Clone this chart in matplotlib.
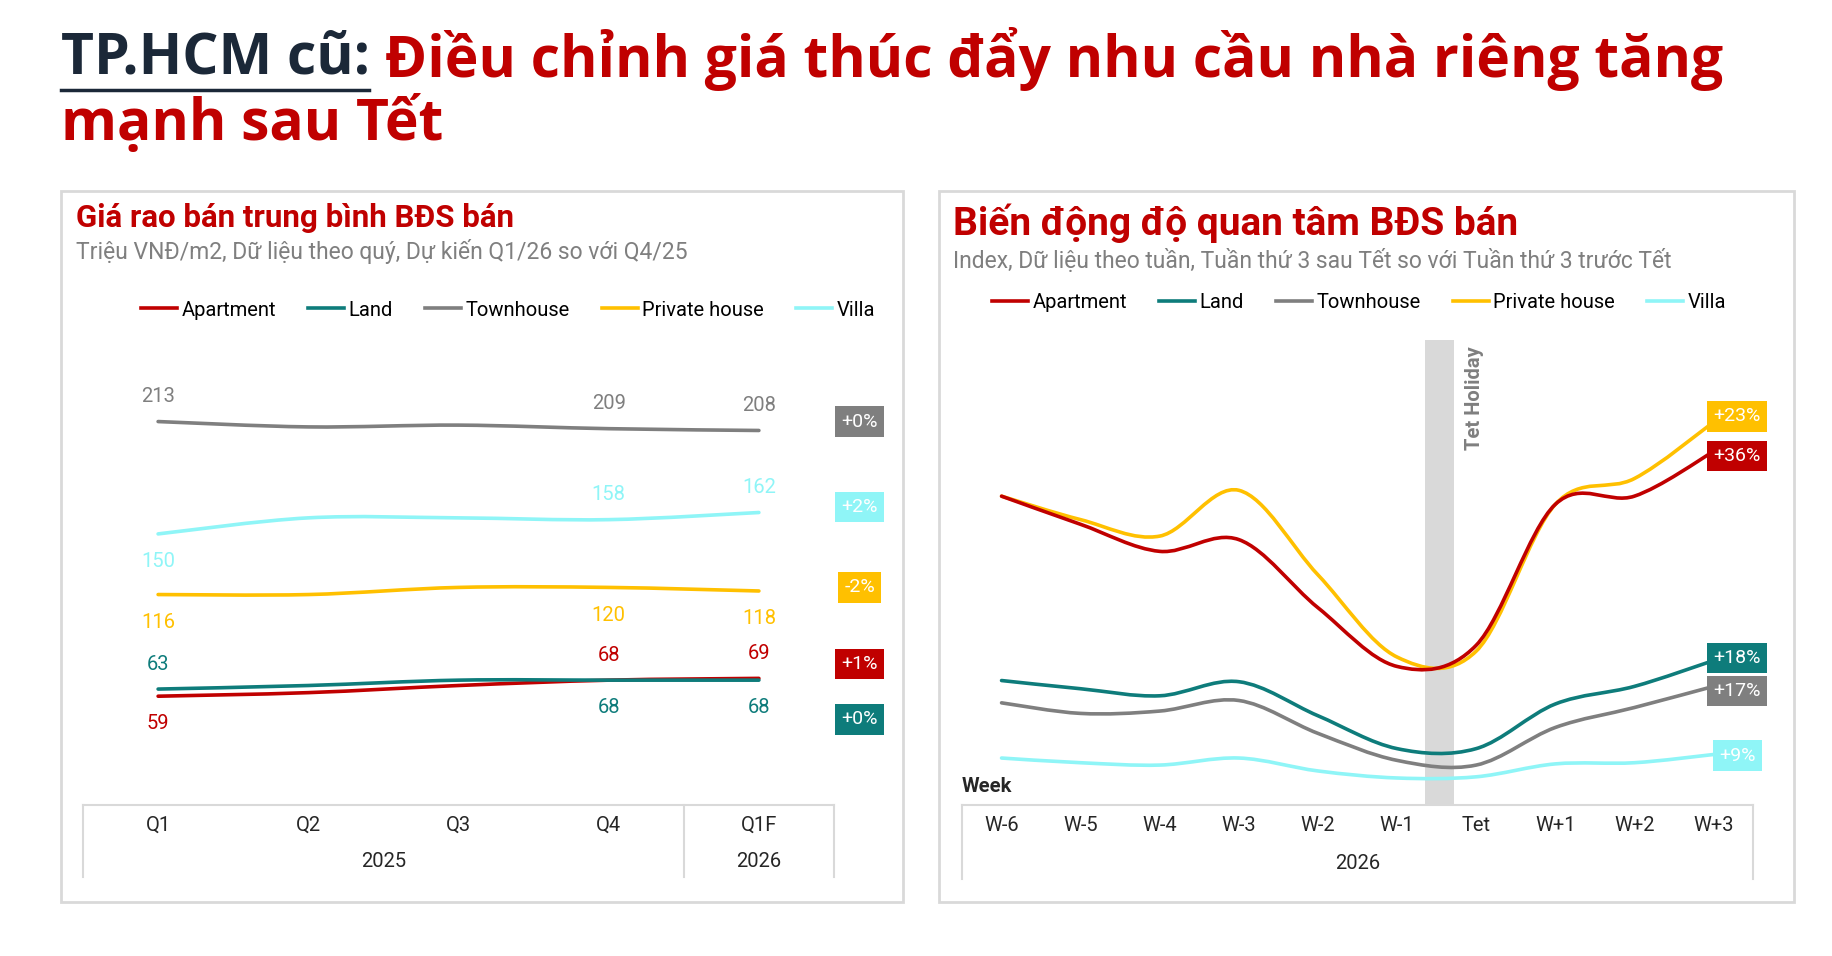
import matplotlib
matplotlib.use("Agg")
import matplotlib.pyplot as plt
from matplotlib.path import Path
from matplotlib.patches import PathPatch, Rectangle
from matplotlib.lines import Line2D

plt.rcParams["font.family"] = ["Roboto", "DejaVu Sans"]

SERIES = ["Apartment", "Land", "Townhouse", "Private house", "Villa"]
COLORS = {
    "Apartment": "#c00000",
    "Land": "#0e7c7b",
    "Townhouse": "#7f7f7f",
    "Private house": "#ffc000",
    "Villa": "#8ff5f7",
}

# left chart: average asking price, million VND/m2
quarters = ["Q1", "Q2", "Q3", "Q4", "Q1F"]
price_apartment = [59, 61, 65, 68, 69]
price_land = [63, 65, 68, 68, 68]
price_townhouse = [213, 210, 211, 209, 208]
price_private = [116, 116, 120, 120, 118]
price_villa = [150, 159, 159, 158, 162]
price_change = ["+1%", "+0%", "+0%", "-2%", "+2%"]
price_change_y = [77, 46, 213, 120, 165]

# right chart: interest index by week
weeks = ["W-6", "W-5", "W-4", "W-3", "W-2", "W-1", "Tet", "W+1", "W+2", "W+3"]
idx_apartment = [277, 253, 230, 240, 182, 132, 150, 270, 277, 315]
idx_land = [120, 113, 107, 119, 90, 62, 62, 100, 115, 137]
idx_townhouse = [101, 92, 94, 103, 75, 52, 48, 80, 97, 115]
idx_private = [277, 257, 243, 282, 210, 140, 145, 270, 292, 340]
idx_villa = [54, 50, 48, 54, 43, 37, 38, 49, 50, 57]
idx_change = ["+36%", "+18%", "+17%", "+23%", "+9%"]
idx_change_y = [311, 139, 111, 345, 56]

W, H = 1832, 956
FS = 14.5


def smooth_path(xs, ys):
    verts = [(xs[0], ys[0])]
    codes = [Path.MOVETO]
    n = len(xs)
    for i in range(n - 1):
        x0, y0 = (xs[i - 1], ys[i - 1]) if i > 0 else (xs[i], ys[i])
        x3, y3 = (xs[i + 2], ys[i + 2]) if i + 2 < n else (xs[i + 1], ys[i + 1])
        x1, y1 = xs[i], ys[i]
        x2, y2 = xs[i + 1], ys[i + 1]
        c1 = (x1 + (x2 - x0) / 6, y1 + (y2 - y0) / 6)
        c2 = (x2 - (x3 - x1) / 6, y2 - (y3 - y1) / 6)
        verts += [c1, c2, (x2, y2)]
        codes += [Path.CURVE4] * 3
    return Path(verts, codes)


def draw_line(ax, values, color):
    xs = list(range(len(values)))
    ax.add_patch(PathPatch(smooth_path(xs, values), fill=False, edgecolor=color,
                           lw=2.6, capstyle="round", joinstyle="round"))


def fig_axes(x0, y0, x1, y1):
    return fig.add_axes([x0 / W, 1 - y1 / H, (x1 - x0) / W, (y1 - y0) / H])


def style_axes(ax, n):
    ax.set_xlim(-0.5, n - 0.5)
    ax.set_yticks([])
    ax.set_xticks([])
    for s in ax.spines.values():
        s.set_visible(False)


def table_lines(ax, seps):
    kw = dict(color="#d9d9d9", lw=1.5, transform=ax.transAxes, clip_on=False)
    ax.add_line(Line2D([0, 1], [0, 0], **kw))
    for xv in [0, 1] + seps:
        ax.add_line(Line2D([xv, xv], [0, -0.16], **kw))


def badge(ax, x, y, text, color):
    ax.text(x, y, text, ha="center", va="center", fontsize=14, color="white",
            clip_on=False,
            bbox=dict(boxstyle="square,pad=0.32", fc=color, ec="none"))


fig = plt.figure(figsize=(W / 100, H / 100), dpi=100)
fig.patch.set_facecolor("white")

# title
TFONT = dict(fontsize=41, fontweight="bold", family=["Open Sans", "DejaVu Sans"],
             va="center", ha="left")
t1 = fig.text(61 / W, 1 - 59 / H, "TP.HCM cũ: ", color="#1b2838", **TFONT)
fig.canvas.draw()
bb = t1.get_window_extent()
fig.text(bb.x1 / W, 1 - 59 / H, "Điều chỉnh giá thúc đẩy nhu cầu nhà riêng tăng",
         color="#c00000", **TFONT)
fig.text(61 / W, 1 - 124 / H, "mạnh sau Tết", color="#c00000", **TFONT)
fig.add_artist(Line2D([bb.x0 / W, (bb.x1 - 16) / W], [(bb.y0 - 2) / H] * 2,
                      color="#1b2838", lw=2.5, transform=fig.transFigure))

# panel boxes
for x0, x1 in [(61, 903), (939, 1794)]:
    fig.add_artist(Rectangle((x0 / W, 1 - 902 / H), (x1 - x0) / W, (902 - 191) / H,
                             transform=fig.transFigure, fill=False,
                             ec="#d9d9d9", lw=2))

handles = [Line2D([], [], color=COLORS[s], lw=2.6) for s in SERIES]

# ---- left chart
ax1 = fig_axes(83, 352, 834, 805)
style_axes(ax1, len(quarters))
ax1.set_ylim(-2, 252)
left_data = dict(zip(SERIES, [price_apartment, price_land, price_townhouse,
                              price_private, price_villa]))
for s in SERIES:
    draw_line(ax1, left_data[s], COLORS[s])

label_offsets = {
    "Apartment": [-20, None, None, 18, 18],
    "Land": [18, None, None, -20, -20],
    "Townhouse": [18, None, None, 18, 18],
    "Private house": [-20, None, None, -20, -20],
    "Villa": [-20, None, None, 18, 18],
}
for s in SERIES:
    for i, off in enumerate(label_offsets[s]):
        if off is None:
            continue
        ax1.annotate(str(left_data[s][i]), (i, left_data[s][i]),
                     xytext=(0, off), textcoords="offset points",
                     ha="center", va="center", fontsize=FS, color=COLORS[s])
for s, txt, yv in zip(SERIES, price_change, price_change_y):
    badge(ax1, 4.67, yv, txt, COLORS[s])

table_lines(ax1, [4 / 5])
xt1 = ax1.get_xaxis_transform()
for i, q in enumerate(quarters):
    ax1.text(i, -0.045, q, transform=xt1, ha="center", va="center",
             fontsize=FS, color="#262626")
ax1.text(1.5, -0.125, "2025", transform=xt1, ha="center", va="center",
         fontsize=FS, color="#262626")
ax1.text(4, -0.125, "2026", transform=xt1, ha="center", va="center",
         fontsize=FS, color="#262626")

fig.text(76 / W, 1 - 218 / H, "Giá rao bán trung bình BĐS bán", fontsize=22.5,
         fontweight="bold", color="#c00000", va="center")
fig.text(76 / W, 1 - 251 / H, "Triệu VNĐ/m2, Dữ liệu theo quý, Dự kiến Q1/26 so với Q4/25",
         fontsize=16.5, color="#7f7f7f", va="center")
fig.legend(handles, SERIES, loc="center", ncol=5, frameon=False, fontsize=FS,
           bbox_to_anchor=(508 / W, 1 - 310 / H), handlelength=1.8,
           handletextpad=0.2, columnspacing=1.6)

# ---- right chart
ax2 = fig_axes(962, 340, 1753, 805)
style_axes(ax2, len(weeks))
ax2.set_ylim(14, 410)
ax2.axvspan(5.35, 5.72, color="#d9d9d9", lw=0)
ax2.text(5.98, 405, "Tet Holiday", rotation=90, ha="center", va="top",
         fontsize=FS, fontweight="bold", color="#7f7f7f")
right_data = dict(zip(SERIES, [idx_apartment, idx_land, idx_townhouse,
                               idx_private, idx_villa]))
for s in ["Villa", "Townhouse", "Land", "Private house", "Apartment"]:
    draw_line(ax2, right_data[s], COLORS[s])
for s, txt, yv in zip(SERIES, idx_change, idx_change_y):
    badge(ax2, 9.3, yv, txt, COLORS[s])

table_lines(ax2, [])
xt2 = ax2.get_xaxis_transform()
for i, wk in enumerate(weeks):
    ax2.text(i, -0.045, wk, transform=xt2, ha="center", va="center",
             fontsize=FS, color="#262626")
ax2.text(4.5, -0.125, "2026", transform=xt2, ha="center", va="center",
         fontsize=FS, color="#262626")
ax2.text(0.0, 0.04, "Week", transform=ax2.transAxes, ha="left", va="center",
         fontsize=FS, fontweight="bold", color="#262626")

fig.text(953 / W, 1 - 223 / H, "Biến động độ quan tâm BĐS bán", fontsize=28,
         fontweight="bold", color="#c00000", va="center")
fig.text(953 / W, 1 - 261 / H,
         "Index, Dữ liệu theo tuần, Tuần thứ 3 sau Tết so với Tuần thứ 3 trước Tết",
         fontsize=16.5, color="#7f7f7f", va="center")
fig.legend(handles, SERIES, loc="center", ncol=5, frameon=False, fontsize=FS,
           bbox_to_anchor=(1359 / W, 1 - 303 / H), handlelength=1.8,
           handletextpad=0.2, columnspacing=1.6)

fig.savefig("out.png", dpi=100, facecolor="white")
